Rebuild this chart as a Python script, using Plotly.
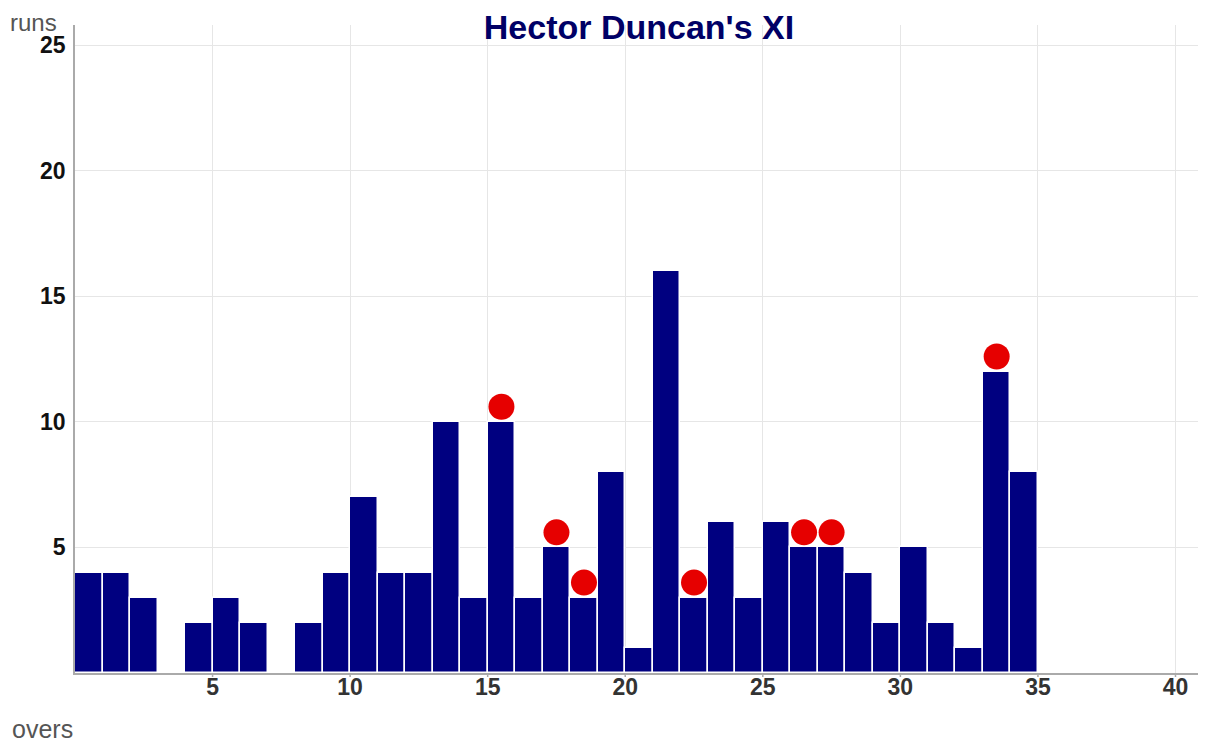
import plotly.graph_objects as go

overs = list(range(1, 36))
runs = [4, 4, 3, 0, 2, 3, 2, 0, 2, 4, 7, 4, 4, 10, 3, 10, 3, 5, 3, 8,
        1, 16, 3, 6, 3, 6, 5, 5, 4, 2, 5, 2, 1, 12, 8]
wicket_overs = [16, 18, 19, 23, 27, 28, 34]
x_ticks = [5, 10, 15, 20, 25, 30, 35, 40]
y_ticks = [5, 10, 15, 20, 25]

run_map = dict(zip(overs, runs))
bar_x = [o - 0.5 for o in overs]
wk_x = [o - 0.5 for o in wicket_overs]
wk_y = [run_map[o] + 0.6 for o in wicket_overs]

# page body has an 8px margin; figure is sized to fill the rest of the window
W, H = 1198, 736
ML, MR, MT, MB = 67, 3, 17, 71
PW, PH = W - ML - MR, H - MT - MB
FONT = "Liberation Sans, Arial, sans-serif"

fig = go.Figure()
fig.add_trace(go.Bar(
    x=bar_x, y=runs, width=1,
    marker=dict(color="#000080", line=dict(color="white", width=1.5)),
    hoverinfo="x+y", showlegend=False,
))
fig.add_trace(go.Scatter(
    x=wk_x, y=wk_y, mode="markers",
    marker=dict(color="#e60000", size=26, line=dict(width=0)),
    showlegend=False,
))

# short tick marks below the x axis
for t in x_ticks:
    fig.add_shape(type="line", xref="x", yref="paper", x0=t, x1=t,
                  y0=0, y1=-4 / PH, line=dict(color="#aaaaaa", width=1.5))

fig.update_layout(
    width=W, height=H,
    margin=dict(l=ML, r=MR, t=MT, b=MB),
    plot_bgcolor="white", paper_bgcolor="white",
    bargap=0,
    font=dict(family=FONT),
    title=dict(
        text="<b>Hector Duncan's XI</b>",
        font=dict(size=34, color="#000066", family=FONT),
        x=0.5, xref="paper", xanchor="center",
        y=1 - 19 / H, yref="container", yanchor="middle",
    ),
    xaxis=dict(
        range=[0, 41], tickvals=x_ticks, ticktext=[str(v) for v in x_ticks],
        showgrid=True, gridcolor="#e6e6e6", gridwidth=1,
        showline=True, linecolor="#aaaaaa", linewidth=1.5,
        ticks="", ticklabelposition="outside", ticklabelstandoff=-7,
        tickfont=dict(size=23, color="#333333", family=FONT, weight="bold"),
        zeroline=False,
    ),
    yaxis=dict(
        range=[0, 25.8], tickvals=y_ticks, ticktext=[str(v) for v in y_ticks],
        showgrid=True, gridcolor="#e6e6e6", gridwidth=1,
        showline=True, linecolor="#aaaaaa", linewidth=1.5,
        ticks="", ticklabelstandoff=3,
        tickfont=dict(size=23, color="#111111", family=FONT, weight="bold"),
        zeroline=False,
    ),
    annotations=[
        dict(text="runs", xref="paper", yref="paper", x=-ML / PW, y=1 + MT / PH,
             xanchor="left", yanchor="top", showarrow=False, xshift=1, yshift=0,
             borderpad=0, font=dict(size=24, color="#555555")),
        dict(text="overs", xref="paper", yref="paper", x=-ML / PW, y=-MB / PH,
             xanchor="left", yanchor="bottom", showarrow=False, xshift=2, yshift=-1,
             font=dict(size=25, color="#555555")),
    ],
)

fig.write_html("out.html")
